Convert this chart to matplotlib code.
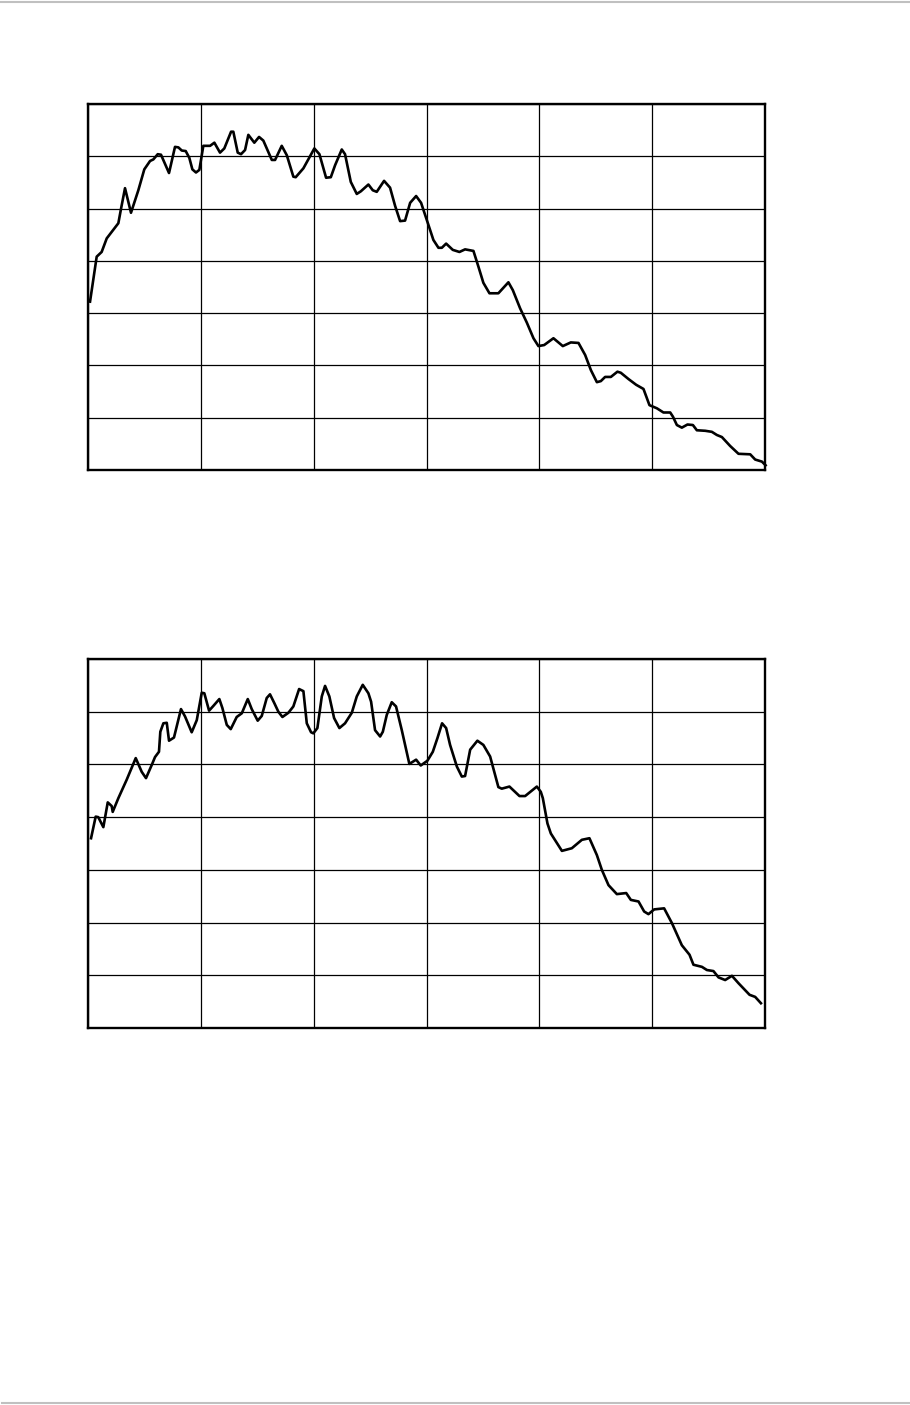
import matplotlib
matplotlib.use("Agg")
import matplotlib.pyplot as plt
from matplotlib.lines import Line2D

# ---- data (grid units: x 0..60, y 0..70) ----
top_x = [0.18, 0.77, 1.21, 1.66, 2.69, 2.93, 3.28, 3.81, 4.46, 4.99, 5.50, 5.79, 6.18, 6.47,
         7.18, 7.71, 8.01, 8.31, 8.66, 8.98, 9.25, 9.57, 9.87, 10.22, 10.82, 11.20, 11.70,
         12.08, 12.68, 12.88, 13.27, 13.56, 13.92, 14.21, 14.74, 15.16, 15.54, 16.29, 16.58,
         17.17, 17.62, 18.20, 18.41, 19.09, 20.06, 20.51, 21.10, 21.52, 21.90, 22.49, 22.78,
         23.29, 23.82, 24.18, 24.85, 25.24, 25.59, 26.24, 26.77, 27.22, 27.66, 28.10, 28.55,
         29.08, 29.52, 30.03, 30.61, 31.06, 31.36, 31.74, 32.33, 32.92, 33.42, 34.16, 34.60,
         35.04, 35.58, 36.37, 37.26, 37.65, 38.30, 38.89, 39.48, 39.92, 40.43, 41.25, 42.08,
         42.79, 43.47, 44.06, 44.57, 45.10, 45.45, 45.83, 46.34, 46.92, 47.22, 47.90, 48.58,
         49.23, 49.47, 49.76, 50.42, 51.00, 51.60, 51.84, 52.19, 52.63, 53.13, 53.61, 53.96,
         54.70, 55.29, 55.73, 56.18, 56.91, 57.65, 58.69, 59.13, 59.73, 60.05]
top_y = [32.2, 40.8, 41.7, 44.3, 47.2, 50.0, 53.9, 49.2, 53.5, 57.5, 59.1, 59.4, 60.4, 60.3,
         56.8, 61.8, 61.7, 61.1, 61.0, 59.7, 57.5, 56.9, 57.4, 62.0, 62.0, 62.6, 60.7,
         61.5, 64.7, 64.7, 60.7, 60.4, 61.2, 64.1, 62.6, 63.7, 63.0, 59.3, 59.3,
         62.0, 60.2, 56.1, 56.0, 57.7, 61.5, 60.4, 55.9, 56.0, 58.3, 61.3, 60.4,
         55.1, 52.8, 53.3, 54.6, 53.5, 53.2, 55.3, 54.0, 50.5, 47.6, 47.7, 51.1,
         52.4, 51.1, 47.8, 44.0, 42.5, 42.5, 43.3, 42.1, 41.7, 42.2, 41.9, 38.9,
         35.8, 33.8, 33.8, 35.9, 34.4, 30.9, 28.2, 25.2, 23.7, 23.9, 25.2, 23.7,
         24.4, 24.3, 22.0, 19.1, 16.8, 17.0, 17.8, 17.8, 18.8, 18.6, 17.4, 16.3,
         15.5, 14.1, 12.4, 11.8, 11.0, 11.0, 10.2, 8.6, 8.1, 8.7, 8.6, 7.6,
         7.5, 7.3, 6.7, 6.3, 4.6, 3.1, 3.0, 2.0, 1.6, 0.9]

bot_x = [0.27, 0.68, 0.91, 1.36, 1.75, 2.10, 2.19, 2.69, 3.43, 4.23, 4.76, 5.14, 5.65, 5.94,
         6.29, 6.41, 6.68, 6.98, 7.18, 7.62, 8.24, 8.60, 9.19, 9.64, 10.08, 10.31, 10.73,
         11.11, 11.64, 11.91, 12.30, 12.65, 13.18, 13.63, 14.16, 14.51, 15.04, 15.40, 15.84,
         16.13, 16.52, 16.87, 17.23, 17.76, 18.20, 18.71, 19.09, 19.39, 19.77, 19.97, 20.33,
         20.72, 21.01, 21.39, 21.81, 22.28, 22.78, 23.38, 23.82, 24.35, 24.85, 25.09, 25.44,
         25.89, 26.13, 26.48, 26.92, 27.30, 27.81, 28.48, 29.08, 29.49, 30.08, 30.56, 30.97,
         31.38, 31.74, 32.09, 32.69, 33.13, 33.42, 33.87, 34.51, 35.04, 35.64, 36.37, 36.67,
         37.35, 38.24, 38.74, 39.78, 40.13, 40.31, 40.72, 41.02, 42.00, 42.88, 43.77, 44.44,
         45.10, 45.54, 46.13, 46.87, 47.70, 48.11, 48.79, 49.29, 49.67, 50.18, 51.06, 51.75,
         52.63, 53.31, 53.66, 54.41, 54.85, 55.43, 55.88, 56.47, 57.07, 57.65, 58.63, 59.13,
         59.64]
bot_y = [36.0, 40.1, 40.0, 38.1, 42.8, 42.1, 41.0, 43.6, 47.1, 51.2, 48.6, 47.4, 49.9, 51.4,
         52.4, 56.2, 57.8, 57.9, 54.5, 55.1, 60.5, 59.1, 56.1, 58.4, 63.6, 63.5, 60.2,
         61.1, 62.4, 60.7, 57.5, 56.7, 59.0, 59.7, 62.4, 60.5, 58.3, 59.2, 62.6,
         63.3, 61.6, 60.0, 59.0, 59.8, 61.0, 64.3, 63.9, 57.8, 56.1, 55.9, 56.9,
         62.9, 64.9, 62.9, 58.8, 56.9, 57.8, 59.8, 62.9, 65.1, 63.5, 61.9, 56.5,
         55.3, 56.2, 59.4, 61.8, 61.0, 56.5, 50.1, 50.9, 49.8, 50.7, 52.4, 55.0,
         57.8, 56.9, 53.7, 49.6, 47.7, 47.8, 52.8, 54.5, 53.7, 51.5, 45.7, 45.4,
         45.8, 44.0, 44.0, 45.8, 44.8, 43.6, 38.8, 36.9, 33.6, 34.1, 35.7, 36.0,
         32.8, 30.0, 27.1, 25.4, 25.6, 24.3, 24.0, 22.1, 21.6, 22.5, 22.7, 19.9,
         15.7, 13.9, 12.0, 11.6, 11.0, 10.8, 9.6, 9.1, 9.9, 8.5, 6.3, 5.9,
         4.7]

x_grid = [0, 10, 20, 30, 40, 50, 60]
y_grid = [0, 10, 20, 30, 40, 50, 60, 70]

W, H = 910, 1405
fig = plt.figure(figsize=(W / 100, H / 100), dpi=100)
fig.patch.set_facecolor("white")


def make_axes(rect, xs, ys):
    ax = fig.add_axes(rect)
    ax.set_xlim(0, 60)
    ax.set_ylim(0, 70)
    ax.set_xticks(x_grid)
    ax.set_yticks(y_grid)
    ax.tick_params(length=0, labelbottom=False, labelleft=False)
    ax.grid(True, color="black", linewidth=0.9)
    ax.set_axisbelow(True)
    for s in ax.spines.values():
        s.set_linewidth(1.7)
        s.set_color("black")
    ax.plot(xs, ys, color="black", linewidth=1.9, solid_joinstyle="round",
            clip_on=False, zorder=3)
    return ax


make_axes([88 / W, 1 - 470 / H, 677 / W, 366 / H], top_x, top_y)
make_axes([88 / W, 1 - 1028 / H, 677 / W, 369 / H], bot_x, bot_y)

# page rules (light gray) at top and bottom
fig.add_artist(Line2D([0, 1], [1 - 1.5 / H, 1 - 1.5 / H], transform=fig.transFigure,
                      color="#c0c0c0", linewidth=1.5))
fig.add_artist(Line2D([2 / W, 1], [1 - 1403 / H, 1 - 1403 / H], transform=fig.transFigure,
                      color="#c0c0c0", linewidth=1.5))

fig.savefig("out.png", dpi=100, facecolor="white")
